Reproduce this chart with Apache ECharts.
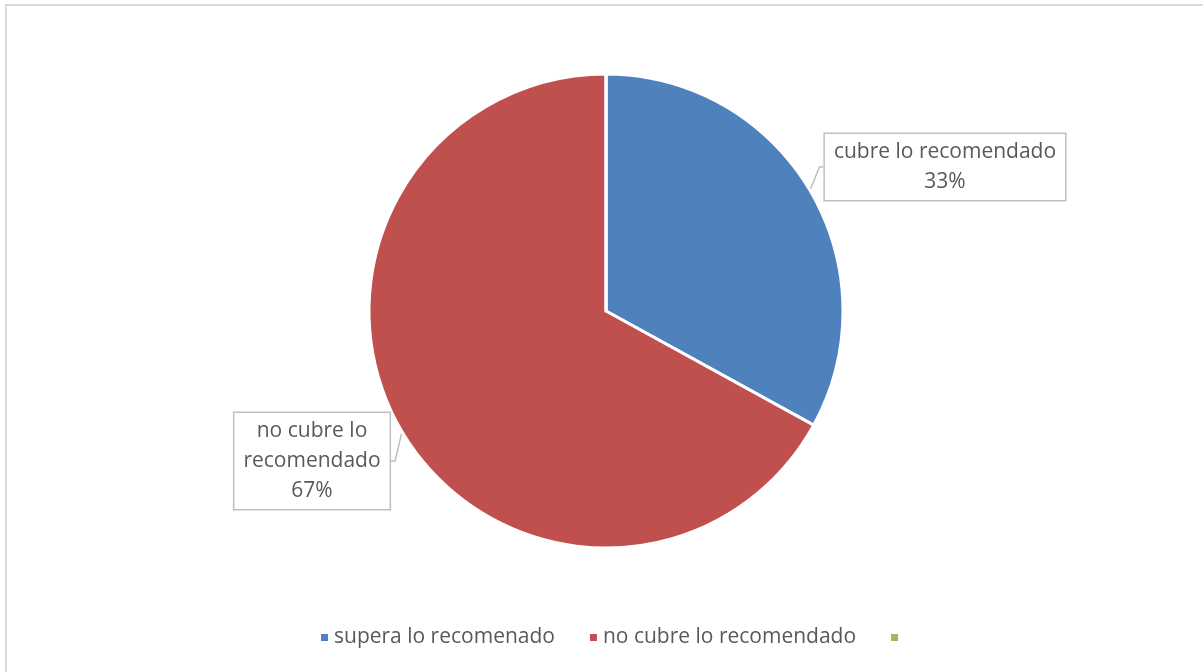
<!DOCTYPE html>
<html>
<head>
<meta charset="utf-8">
<script src="https://cdn.jsdelivr.net/npm/echarts@6/dist/echarts.min.js"></script>
<style>
  html, body { margin: 0; padding: 0; background: #ffffff; }
  #chart { width: 1203px; height: 672px; }
</style>
</head>
<body>
<div id="chart"></div>
<script>
// Legend names, callout texts and shares for each slice
const legendNames = ['supera lo recomenado', 'no cubre lo recomendado', ' '];
const calloutNames = ['cubre lo recomendado', 'no cubre lo\nrecomendado', ''];
const shares = [33, 67, 0];
const colors = ['#4f81bd', '#c0504d', '#9bbb59'];

const chart = echarts.init(document.getElementById('chart'));

const data = legendNames.map((name, i) => ({
  name: name,
  value: shares[i],
  itemStyle: { color: colors[i] },
  label: { show: shares[i] > 0 },
  labelLine: { show: shares[i] > 0 }
}));

// Callout box placement (centre of each box)
const calloutPos = [
  { x: 945, y: 167 },
  { x: 312, y: 461 }
];

const textFont = { fontFamily: 'Open Sans', fontSize: 21, color: '#595959' };

chart.setOption({
  backgroundColor: '#ffffff',
  animation: false,
  graphic: [{
    type: 'rect',
    shape: { x: 6, y: 5, width: 1400, height: 900 },
    style: { fill: 'none', stroke: '#d9d9d9', lineWidth: 2 },
    silent: true
  }],
  legend: {
    bottom: 19,
    left: 314,
    icon: 'rect',
    itemWidth: 9,
    itemHeight: 9,
    itemGap: 33,
    data: legendNames,
    textStyle: textFont
  },
  series: [{
    type: 'pie',
    center: [606, 311],
    radius: 237,
    startAngle: 90,
    clockwise: true,
    data: data,
    itemStyle: { borderColor: '#ffffff', borderWidth: 3 },
    emphasis: { disabled: true },
    label: Object.assign({
      position: 'outside',
      formatter: (p) => calloutNames[p.dataIndex] + '\n' + Math.round(p.percent) + '%',
      lineHeight: 30,
      align: 'center',
      backgroundColor: '#ffffff',
      borderColor: '#bfbfbf',
      borderWidth: 1.5,
      padding: [3, 9, 3, 9]
    }, textFont),
    labelLine: {
      length: 6,
      length2: 4,
      lineStyle: { color: '#bfbfbf', width: 1.5 }
    },
    labelLayout: (params) => {
      const pos = calloutPos[params.dataIndex];
      if (!pos) return {};
      return { x: pos.x, y: pos.y, align: 'center', verticalAlign: 'middle' };
    }
  }]
});
</script>
</body>
</html>
